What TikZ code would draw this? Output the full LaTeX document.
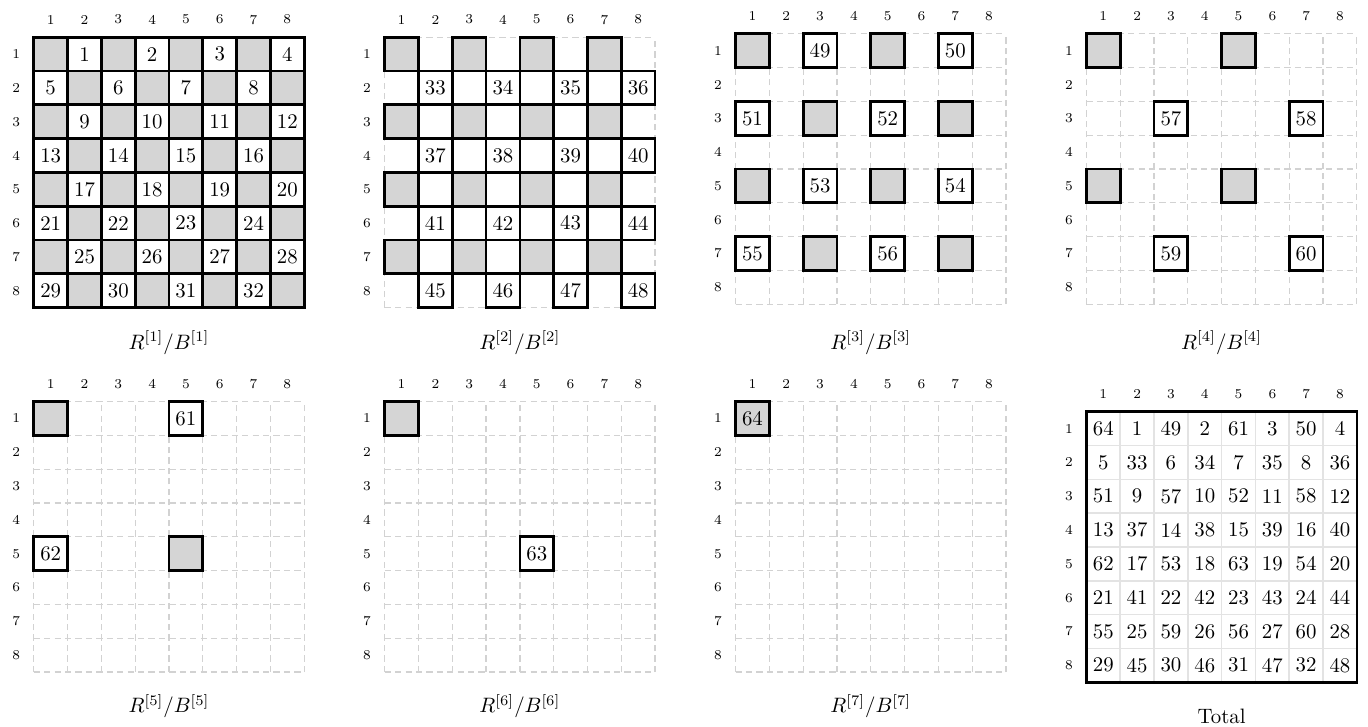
\documentclass[tikz,border=0pt]{standalone}
\usepackage{tikz}

\tikzset{
  graycell/.style={draw=black, line width=1.3pt, fill=gray!33, minimum size=0.57cm, inner sep=0pt},
  numcell/.style={draw=black, line width=1.3pt, fill=white, minimum size=0.57cm, inner sep=0pt},
  idxlabel/.style={font=\fontsize{6.5}{7}\selectfont, inner sep=0pt},
  dashgrid/.style={gray!35, line width=0.6pt, dash pattern=on 3pt off 2pt, step=0.57cm},
  totalgrid/.style={gray!22, line width=0.8pt, step=0.57cm},
}

\begin{document}
\begin{tikzpicture}[x=0.57cm, y=-0.57cm]
\useasboundingbox (0,0) rectangle (40.47,21.48);

\foreach \px/\py [count=\k] in {1.0/1.1, 11.38/1.1, 21.76/1.0, 32.14/1.0, 1.0/11.88, 11.38/11.88, 21.76/11.88} {
  \begin{scope}[shift={(\px,\py)}]
    \draw[dashgrid] (0,0) grid (8,8);
    \foreach \i in {1,...,8} {
      \node[idxlabel] (col\k-\i) at (\i-0.5,-0.52) {\i};
      \node[idxlabel] (row\k-\i) at (-0.52,\i-0.5) {\i};
    }
  \end{scope}
}

\begin{scope}[shift={(1.0,1.1)}]
\foreach \r in {1,...,8}
  \foreach \c in {1,...,8} {
    \pgfmathtruncatemacro{\odd}{mod(\r+\c,2)}
    \pgfmathtruncatemacro{\num}{4*(\r-1)+floor((\c-1)/2)+1}
    \ifnum\odd=0 \node[graycell] (p1-\r-\c) at (\c-0.5,\r-0.5) {};
    \else \node[numcell] (p1-\r-\c) at (\c-0.5,\r-0.5) {\num}; \fi
  }
\end{scope}

\begin{scope}[shift={(11.38,1.1)}]
\foreach \r in {1,3,5,7}
  \foreach \c in {1,3,5,7} \node[graycell] (p2-\r-\c) at (\c-0.5,\r-0.5) {};
\foreach \r in {2,4,6,8}
  \foreach \c in {2,4,6,8} {
    \pgfmathtruncatemacro{\num}{32+2*(\r-2)+\c/2}
    \node[numcell] (p2-\r-\c) at (\c-0.5,\r-0.5) {\num};
  }
\end{scope}

\begin{scope}[shift={(21.76,1.0)}]
\foreach \r/\c in {1/1,1/5,3/3,3/7,5/1,5/5,7/3,7/7}
  \node[graycell] (p3-\r-\c) at (\c-0.5,\r-0.5) {};
\foreach \r/\c/\n in {1/3/49,1/7/50,3/1/51,3/5/52,5/3/53,5/7/54,7/1/55,7/5/56}
  \node[numcell] (p3-\r-\c) at (\c-0.5,\r-0.5) {\n};
\end{scope}

\begin{scope}[shift={(32.14,1.0)}]
\foreach \r/\c in {1/1,1/5,5/1,5/5}
  \node[graycell] (p4-\r-\c) at (\c-0.5,\r-0.5) {};
\foreach \r/\c/\n in {3/3/57,3/7/58,7/3/59,7/7/60}
  \node[numcell] (p4-\r-\c) at (\c-0.5,\r-0.5) {\n};
\end{scope}

\begin{scope}[shift={(1.0,11.88)}]
\node[graycell] (p5-1-1) at (0.5,0.5) {};
\node[numcell] (p5-1-5) at (4.5,0.5) {61};
\node[numcell] (p5-5-1) at (0.5,4.5) {62};
\node[graycell] (p5-5-5) at (4.5,4.5) {};
\end{scope}

\begin{scope}[shift={(11.38,11.88)}]
\node[graycell] (p6-1-1) at (0.5,0.5) {};
\node[numcell] (p6-5-5) at (4.5,4.5) {63};
\end{scope}

\begin{scope}[shift={(21.76,11.88)}]
\node[graycell] (p7-1-1) at (0.5,0.5) {64};
\end{scope}

\begin{scope}[shift={(32.14,12.18)}]
\draw[totalgrid] (0,0) grid (8,8);
\draw[line width=1.3pt] (0,0) rectangle (8,8);
\foreach \i in {1,...,8} {
  \node[idxlabel] (col8-\i) at (\i-0.5,-0.52) {\i};
  \node[idxlabel] (row8-\i) at (-0.52,\i-0.5) {\i};
}
\foreach \v [count=\c] in {64,1,49,2,61,3,50,4} \node (t1-\c) at (\c-0.5,0.5) {\v};
\foreach \v [count=\c] in {5,33,6,34,7,35,8,36} \node (t2-\c) at (\c-0.5,1.5) {\v};
\foreach \v [count=\c] in {51,9,57,10,52,11,58,12} \node (t3-\c) at (\c-0.5,2.5) {\v};
\foreach \v [count=\c] in {13,37,14,38,15,39,16,40} \node (t4-\c) at (\c-0.5,3.5) {\v};
\foreach \v [count=\c] in {62,17,53,18,63,19,54,20} \node (t5-\c) at (\c-0.5,4.5) {\v};
\foreach \v [count=\c] in {21,41,22,42,23,43,24,44} \node (t6-\c) at (\c-0.5,5.5) {\v};
\foreach \v [count=\c] in {55,25,59,26,56,27,60,28} \node (t7-\c) at (\c-0.5,6.5) {\v};
\foreach \v [count=\c] in {29,45,30,46,31,47,32,48} \node (t8-\c) at (\c-0.5,7.5) {\v};
\end{scope}

\node[anchor=base] (cap1) at (5.0,10.33) {$R^{[1]}/B^{[1]}$};
\node[anchor=base] (cap2) at (15.38,10.33) {$R^{[2]}/B^{[2]}$};
\node[anchor=base] (cap3) at (25.76,10.33) {$R^{[3]}/B^{[3]}$};
\node[anchor=base] (cap4) at (36.14,10.33) {$R^{[4]}/B^{[4]}$};
\node[anchor=base] (cap5) at (5.0,21.09) {$R^{[5]}/B^{[5]}$};
\node[anchor=base] (cap6) at (15.38,21.09) {$R^{[6]}/B^{[6]}$};
\node[anchor=base] (cap7) at (25.76,21.09) {$R^{[7]}/B^{[7]}$};
\node[anchor=base] (cap8) at (36.14,21.39) {Total};
\end{tikzpicture}
\end{document}
